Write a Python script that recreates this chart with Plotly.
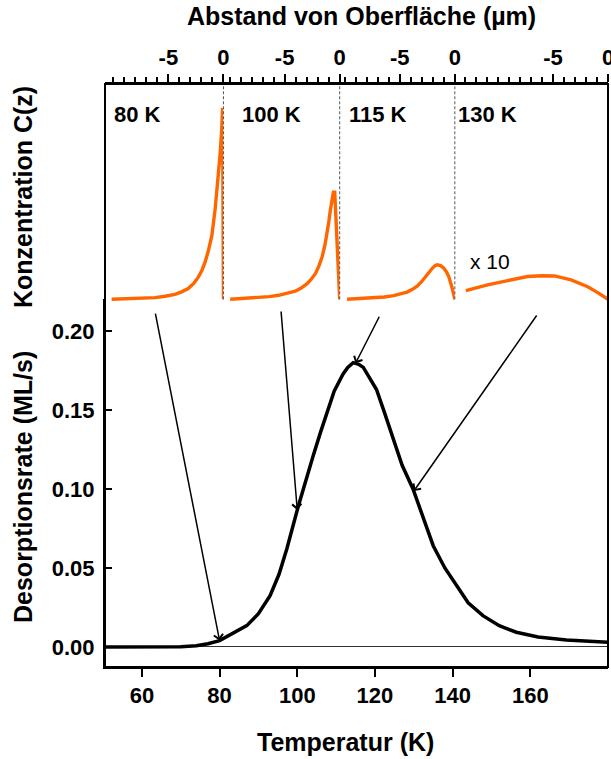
import numpy as np
import plotly.graph_objects as go

# ---------------- data ----------------
# TPD spectrum (bottom panel)
temp_K = [50.5, 60, 65, 70, 74, 77, 80, 83, 87, 90, 93, 95.3, 97.3, 100.3, 102, 104.1,
          106, 107.6, 109.5, 111.8, 113, 114.4, 115.8, 117, 118.5, 120.4, 122.5, 124.7,
          127, 129.8, 132.5, 135, 138, 141, 144, 147.8, 152, 156.4, 162, 169.3, 175, 180]
rate_ML_s = [0, 0, 0, 0.0002, 0.0008, 0.002, 0.004, 0.008, 0.0135, 0.021, 0.0325, 0.046,
             0.062, 0.0894, 0.104, 0.121, 0.136, 0.1485, 0.162, 0.1728, 0.177, 0.180,
             0.179, 0.177, 0.171, 0.163, 0.148, 0.1316, 0.115, 0.100, 0.082, 0.0641,
             0.050, 0.0388, 0.028, 0.0198, 0.0135, 0.0093, 0.0063, 0.0044, 0.0035, 0.003]

# concentration profiles C(z) (top panel), z in µm
z_80K = [-10.15, -8.0, -6.2, -5.3, -4.4, -3.8, -3.2, -2.7, -2.27, -1.95, -1.66, -1.35,
         -1.05, -0.75, -0.45, -0.3, -0.15, -0.08, 0.0]
c_80K = [0.0, 0.003, 0.009, 0.016, 0.026, 0.039, 0.056, 0.083, 0.117, 0.152, 0.195, 0.258,
         0.334, 0.474, 0.648, 0.76, 0.892, 1.0, 0.0]

z_100K = [-9.94, -8.5, -7.36, -6.4, -5.55, -4.8, -4.03, -3.5, -2.96, -2.6, -2.21, -1.9,
          -1.6, -1.35, -1.15, -1.0, -0.85, -0.7, -0.57, -0.45, 0.0]
c_100K = [0.0, 0.004, 0.009, 0.014, 0.021, 0.030, 0.042, 0.059, 0.082, 0.104, 0.134, 0.172,
          0.221, 0.280, 0.343, 0.400, 0.465, 0.520, 0.560, 0.560, 0.0]

z_115K = [-9.78, -8.5, -7.36, -6.4, -5.55, -4.9, -4.33, -3.85, -3.42, -3.0, -2.66, -2.35,
          -2.05, -1.8, -1.6, -1.3, -1.0, -0.75, -0.55, -0.24, 0.0]
c_115K = [0.0, 0.004, 0.007, 0.012, 0.019, 0.027, 0.038, 0.052, 0.068, 0.093, 0.120, 0.143,
          0.162, 0.175, 0.180, 0.176, 0.162, 0.142, 0.119, 0.058, 0.0]

z_130K = [-12.9, -10.93, -9.1, -7.3, -6.0, -4.86, -3.35, -2.6, -1.84, -0.93, -0.45, 0.0]
c_130K = [0.0045, 0.0075, 0.0098, 0.0119, 0.0123, 0.0122, 0.0101, 0.0085, 0.0066, 0.0035,
          0.0018, 0.0]

profile_z = [z_80K, z_100K, z_115K, z_130K]
profile_c = [c_80K, c_100K, c_115K, c_130K]
profile_labels = ["80 K", "100 K", "115 K", "130 K"]
profile_temps = [80, 100, 115, 130]
profile_scale = [1, 1, 1, 10]

top_tick_vals = [-5, 0]
top_tick_text = ["-5", "0"]
x_tick_vals = [60, 80, 100, 120, 140, 160]
y_tick_vals = [0.0, 0.05, 0.10, 0.15, 0.20]
y_tick_text = ["0.00", "0.05", "0.10", "0.15", "0.20"]

# ---------------- layout parameters ----------------
seg_len = [10.75, 10.55, 10.45, 13.9]          # µm span of each top sub-axis
label_x = [-10.15, -9.05, -9.8, -13.75]        # left edge of panel labels (µm)
arrow_tail_T = [63.4, 95.8, 121.3, 161.9]
arrow_tail_r = [0.212, 0.2133, 0.210, 0.2108]

FONT = "Liberation Sans"
ORANGE = "#ff6600"
W, H = 611, 759
PL, PR, PT, PB = 105, 608, 84, 667        # plot box in window pixels
ML, MT = PL, PT
MR, MB = W - PR, H - PB
plot_w = PR - PL
plot_h = PB - PT


def px(xs):
    return (xs - PL) / plot_w


def py(ys):
    return (PB - ys) / plot_h


split_px = 299.3           # y pixel of top-panel baseline
y_bottom_top = py(299)
y2_min = -0.02
y2_max = 1.125
y2_px_per_unit = (split_px - PT) / y2_max
y2_dom0 = py(split_px - y2_min * y2_px_per_unit)

tot = sum(seg_len)
bounds = np.concatenate([[0], np.cumsum(seg_len) / tot])

fig = go.Figure()

fig.add_trace(go.Scatter(x=temp_K, y=rate_ML_s, mode="lines",
                         line=dict(color="black", width=3.5), xaxis="x", yaxis="y",
                         hoverinfo="skip"))

for i in range(4):
    ax_name = "x%d" % (i + 2)
    fig.add_trace(go.Scatter(x=profile_z[i],
                             y=[v * profile_scale[i] for v in profile_c[i]],
                             mode="lines", line=dict(color=ORANGE, width=3.4),
                             xaxis=ax_name, yaxis="y2", hoverinfo="skip"))

tickfont = dict(family=FONT, size=22, color="black", weight="bold")
layout = dict(
    width=W, height=H,
    margin=dict(l=ML, r=MR, t=MT, b=MB, autoexpand=False),
    paper_bgcolor="white", plot_bgcolor="white",
    showlegend=False,
    font=dict(family=FONT, color="black"),
    xaxis=dict(domain=[0, 1], range=[50.5, 180], anchor="y", automargin=False,
               tickvals=x_tick_vals, ticks="outside", ticklen=8, tickwidth=2,
               tickcolor="black", showline=True, linecolor="black", linewidth=2,
               showgrid=False, zeroline=False, tickfont=tickfont),
    yaxis=dict(domain=[0, y_bottom_top], range=[-0.0127, 0.2203], anchor="x",
               automargin=False,
               tickvals=y_tick_vals, ticktext=y_tick_text, ticks="inside", ticklen=7,
               tickwidth=2, tickcolor="black", showline=True, linecolor="black",
               linewidth=2, showgrid=False, zeroline=True, zerolinecolor="#333333",
               zerolinewidth=1, tickfont=tickfont, ticklabelstandoff=4),
    yaxis2=dict(domain=[y2_dom0, 1], range=[y2_min, y2_max], anchor="x2",
                automargin=False,
                showticklabels=False, ticks="", showline=False, showgrid=False,
                zeroline=False),
)
for i in range(4):
    layout["xaxis%d" % (i + 2)] = dict(
        domain=[bounds[i], bounds[i + 1]], range=[-seg_len[i], 0], anchor="y2",
        side="top", tickvals=top_tick_vals, ticktext=top_tick_text, automargin=False,
        ticklabeloverflow="allow",
        ticks="outside", ticklen=8, tickwidth=2, tickcolor="black",
        minor=dict(dtick=1, tick0=0, ticks="outside", ticklen=5, tickwidth=1.5,
                   tickcolor="black", showgrid=False),
        showline=True, linecolor="black", linewidth=2, showgrid=False,
        zeroline=False, tickfont=tickfont)
fig.update_layout(**layout)

shapes = []
# gray baseline of top panel
shapes.append(dict(type="line", xref="paper", yref="y2", x0=0, x1=1, y0=0, y1=0,
                   line=dict(color="#777777", width=1.5), layer="below"))
# dashed separators
for b in bounds[1:-1]:
    shapes.append(dict(type="line", xref="paper", yref="y2", x0=b, x1=b, y0=0,
                       y1=y2_max, line=dict(color="#555555", width=1, dash="3px,2px")))
# frame
shapes.append(dict(type="rect", xref="paper", yref="paper", x0=0, x1=1, y0=0, y1=1,
                   line=dict(color="black", width=2)))
fig.update_layout(shapes=shapes)

ann = []
for i in range(4):
    ann.append(dict(text=profile_labels[i], xref="x%d" % (i + 2), yref="y2",
                    x=label_x[i], y=0.966, xanchor="left", yanchor="middle",
                    showarrow=False, font=dict(family=FONT, size=22, weight="bold")))
ann.append(dict(text="x %d" % profile_scale[3], xref="x5", yref="y2", x=-12.7, y=0.195,
                xanchor="left", yanchor="middle", showarrow=False,
                font=dict(family=FONT, size=21)))
for i in range(4):
    tip_r = float(np.interp(profile_temps[i], temp_K, rate_ML_s))
    ann.append(dict(text="", x=profile_temps[i], y=tip_r, xref="x", yref="y",
                    ax=arrow_tail_T[i], ay=arrow_tail_r[i], axref="x", ayref="y",
                    showarrow=True, arrowhead=4, arrowsize=1.2, arrowwidth=1.5,
                    arrowcolor="black"))
title_font = dict(family=FONT, size=25, weight="bold")
ann.append(dict(text="Abstand von Oberfläche (µm)", xref="paper", yref="paper",
                x=px(361), y=py(16),
                xanchor="center", yanchor="middle", showarrow=False, font=title_font))
ann.append(dict(text="Temperatur (K)", xref="paper", yref="paper",
                x=px(345), y=py(742),
                xanchor="center", yanchor="middle", showarrow=False, font=title_font))
ann.append(dict(text="Desorptionsrate (ML/s)", xref="paper", yref="paper",
                x=px(23), y=py(487), textangle=-90,
                xanchor="center", yanchor="middle", showarrow=False, font=title_font))
ann.append(dict(text="Konzentration C(z)", xref="paper", yref="paper",
                x=px(23), y=py(197), textangle=-90,
                xanchor="center", yanchor="middle", showarrow=False, font=title_font))
fig.update_layout(annotations=ann)

# remove the default page margin so the 611x759 figure fills the window exactly
fig.write_html("out.html",
               config={"displayModeBar": False},
               post_script="document.body.style.margin='0';"
                           "document.body.style.overflow='hidden';")
